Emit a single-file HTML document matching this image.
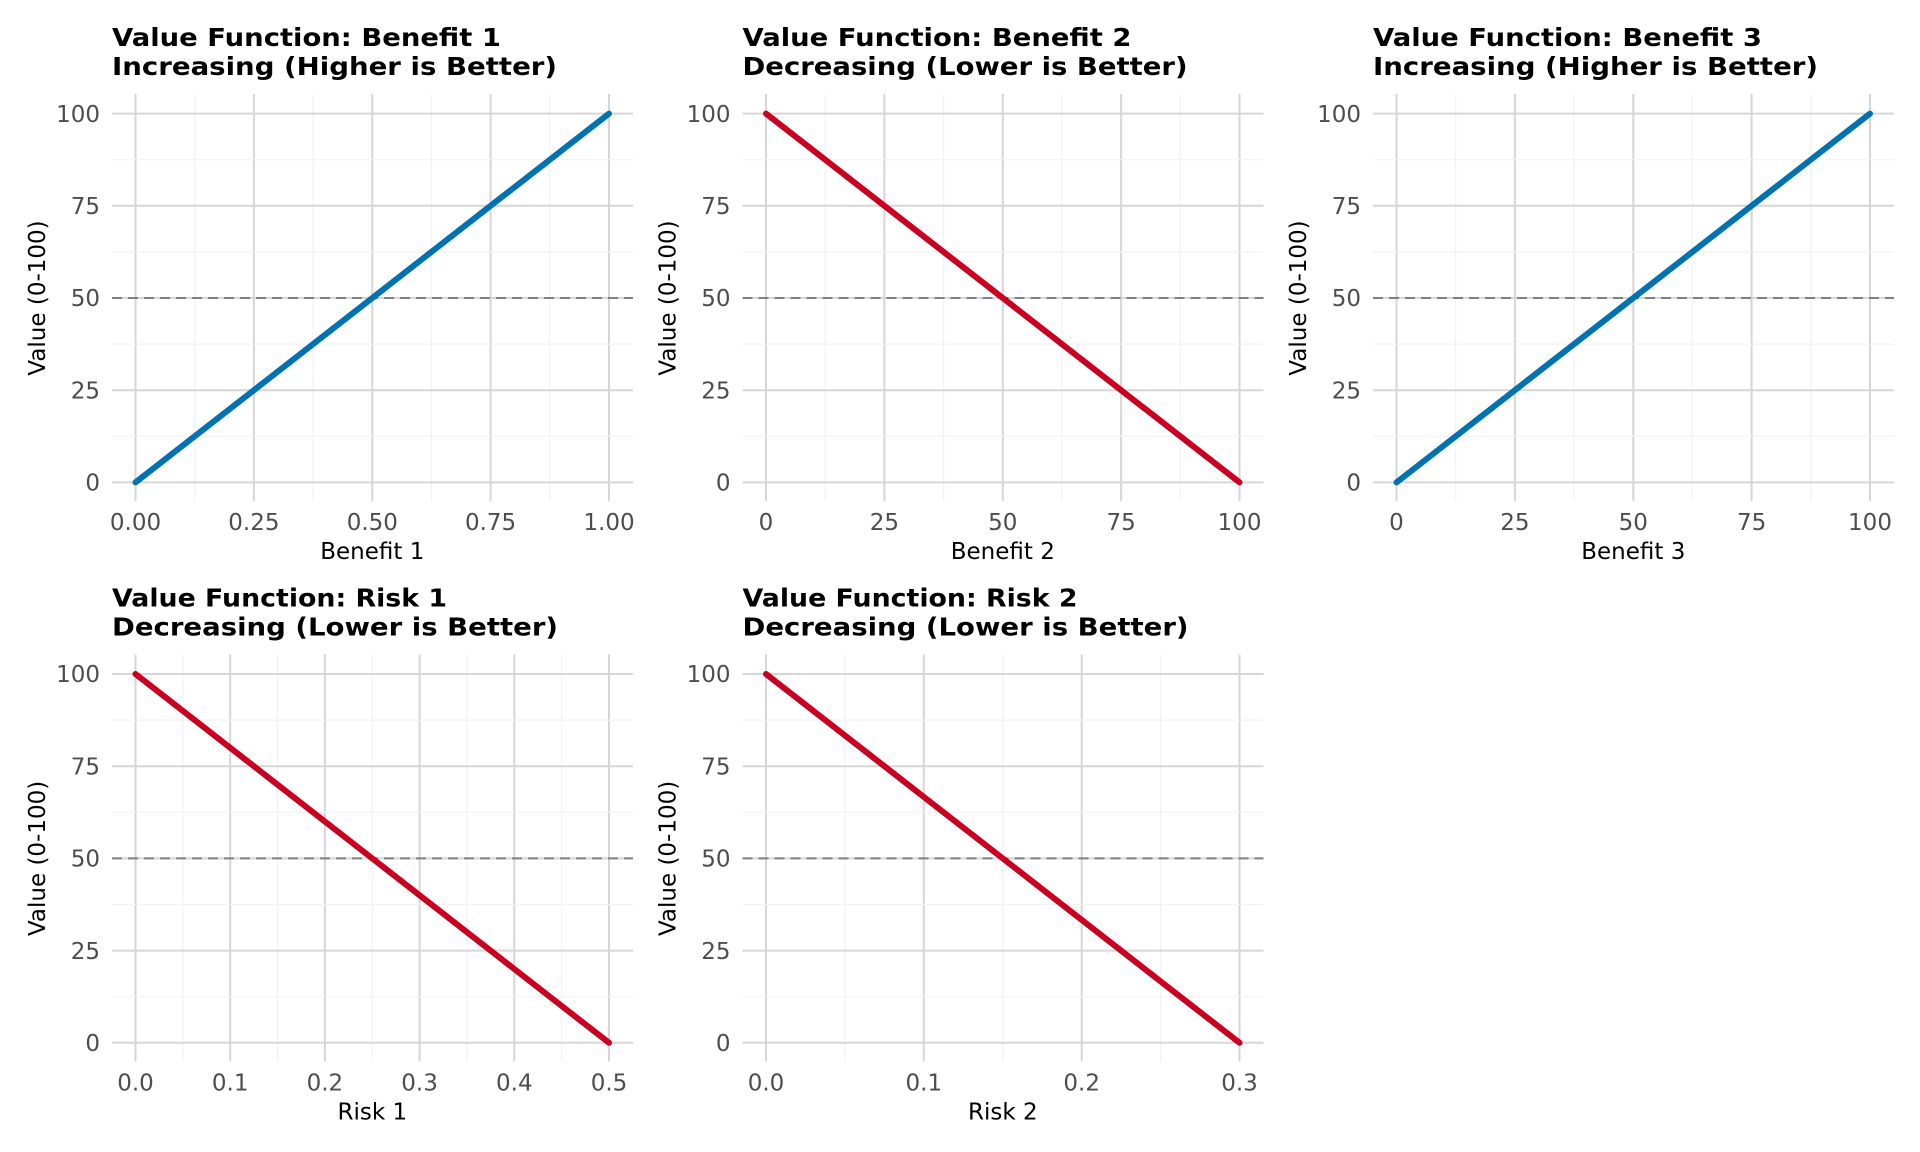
<!DOCTYPE html>
<html><head><meta charset="utf-8"><style>
html,body{margin:0;padding:0;background:#fff;}
svg{display:block;font-family:"DejaVu Sans","Liberation Sans",sans-serif;}
.mn{stroke:#f2f2f2;stroke-width:1.2;fill:none}
.mj{stroke:#d6d6d6;stroke-width:2;fill:none}
.dh{stroke:#808080;stroke-width:2;stroke-dasharray:10,6;fill:none}
.tt{font-weight:bold;font-size:25px;fill:#000}
.tk{font-size:23px;fill:#4d4d4d}
.yt{font-size:23px;fill:#4d4d4d;text-anchor:end}
.ax{font-size:23px;fill:#000;text-anchor:middle}
.bl{stroke:#0072B2;stroke-width:6;stroke-linecap:round}
.rd{stroke:#CA0020;stroke-width:6;stroke-linecap:round}
</style></head><body>
<svg width="1920" height="1152" viewBox="0 0 1920 1152" xmlns="http://www.w3.org/2000/svg">
<defs>
<g id="ybase">
<path class="mn" d="M112 159.7H633M112 251.9H633M112 344.1H633M112 436.3H633"/>
<path class="mj" d="M112 113.6H633M112 205.8H633M112 390.2H633M112 482.4H633M112 298H633"/>
<path class="dh" d="M112 298H633"/>
<text class="yt" x="100" y="121.8">100</text>
<text class="yt" x="100" y="214">75</text>
<text class="yt" x="100" y="306.2">50</text>
<text class="yt" x="100" y="398.4">25</text>
<text class="yt" x="100" y="490.6">0</text>
<text class="ax" transform="translate(45,298) rotate(-90)">Value (0-100)</text>
</g>
<g id="xq">
<path class="mn" d="M194.7 94V501M313.1 94V501M431.4 94V501M549.8 94V501"/>
<path class="mj" d="M135.5 94V501M253.9 94V501M372.3 94V501M490.6 94V501M609 94V501"/>
</g>
</defs>

<g>
<use href="#xq"/><use href="#ybase"/>
<text class="tt" x="112" y="46" textLength="389" lengthAdjust="spacingAndGlyphs">Value Function: Benefit 1</text>
<text class="tt" x="112" y="75" textLength="445" lengthAdjust="spacingAndGlyphs">Increasing (Higher is Better)</text>
<g class="tk" text-anchor="middle">
<text x="135.5" y="530">0.00</text><text x="253.9" y="530">0.25</text><text x="372.3" y="530">0.50</text><text x="490.6" y="530">0.75</text><text x="609" y="530">1.00</text>
</g>
<text class="ax" x="372.3" y="559">Benefit 1</text>
<line class="bl" x1="135.5" y1="482.4" x2="609" y2="113.6"/>
</g>

<g transform="translate(630.5,0)">
<use href="#xq"/><use href="#ybase"/>
<text class="tt" x="112" y="46" textLength="389" lengthAdjust="spacingAndGlyphs">Value Function: Benefit 2</text>
<text class="tt" x="112" y="75" textLength="445" lengthAdjust="spacingAndGlyphs">Decreasing (Lower is Better)</text>
<g class="tk" text-anchor="middle">
<text x="135.5" y="530">0</text><text x="253.9" y="530">25</text><text x="372.3" y="530">50</text><text x="490.6" y="530">75</text><text x="609" y="530">100</text>
</g>
<text class="ax" x="372.3" y="559">Benefit 2</text>
<line class="rd" x1="135.5" y1="113.6" x2="609" y2="482.4"/>
</g>

<g transform="translate(1261,0)">
<use href="#xq"/><use href="#ybase"/>
<text class="tt" x="112" y="46" textLength="389" lengthAdjust="spacingAndGlyphs">Value Function: Benefit 3</text>
<text class="tt" x="112" y="75" textLength="445" lengthAdjust="spacingAndGlyphs">Increasing (Higher is Better)</text>
<g class="tk" text-anchor="middle">
<text x="135.5" y="530">0</text><text x="253.9" y="530">25</text><text x="372.3" y="530">50</text><text x="490.6" y="530">75</text><text x="609" y="530">100</text>
</g>
<text class="ax" x="372.3" y="559">Benefit 3</text>
<line class="bl" x1="135.5" y1="482.4" x2="609" y2="113.6"/>
</g>

<g transform="translate(0,560.4)">
<path class="mn" d="M182.9 94V501M277.6 94V501M372.3 94V501M466.9 94V501M561.7 94V501"/>
<path class="mj" d="M135.5 94V501M230.2 94V501M324.9 94V501M419.6 94V501M514.3 94V501M609 94V501"/>
<use href="#ybase"/>
<text class="tt" x="112" y="46" textLength="335" lengthAdjust="spacingAndGlyphs">Value Function: Risk 1</text>
<text class="tt" x="112" y="75" textLength="446" lengthAdjust="spacingAndGlyphs">Decreasing (Lower is Better)</text>
<g class="tk" text-anchor="middle">
<text x="135.5" y="530">0.0</text><text x="230.2" y="530">0.1</text><text x="324.9" y="530">0.2</text><text x="419.6" y="530">0.3</text><text x="514.3" y="530">0.4</text><text x="609" y="530">0.5</text>
</g>
<text class="ax" x="372.3" y="559">Risk 1</text>
<line class="rd" x1="135.5" y1="113.6" x2="609" y2="482.4"/>
</g>

<g transform="translate(630.5,560.4)">
<path class="mn" d="M214.4 94V501M372.3 94V501M530.1 94V501"/>
<path class="mj" d="M135.5 94V501M293.3 94V501M451.2 94V501M609 94V501"/>
<use href="#ybase"/>
<text class="tt" x="112" y="46" textLength="335" lengthAdjust="spacingAndGlyphs">Value Function: Risk 2</text>
<text class="tt" x="112" y="75" textLength="446" lengthAdjust="spacingAndGlyphs">Decreasing (Lower is Better)</text>
<g class="tk" text-anchor="middle">
<text x="135.5" y="530">0.0</text><text x="293.3" y="530">0.1</text><text x="451.2" y="530">0.2</text><text x="609" y="530">0.3</text>
</g>
<text class="ax" x="372.3" y="559">Risk 2</text>
<line class="rd" x1="135.5" y1="113.6" x2="609" y2="482.4"/>
</g>
</svg>
</body></html>
